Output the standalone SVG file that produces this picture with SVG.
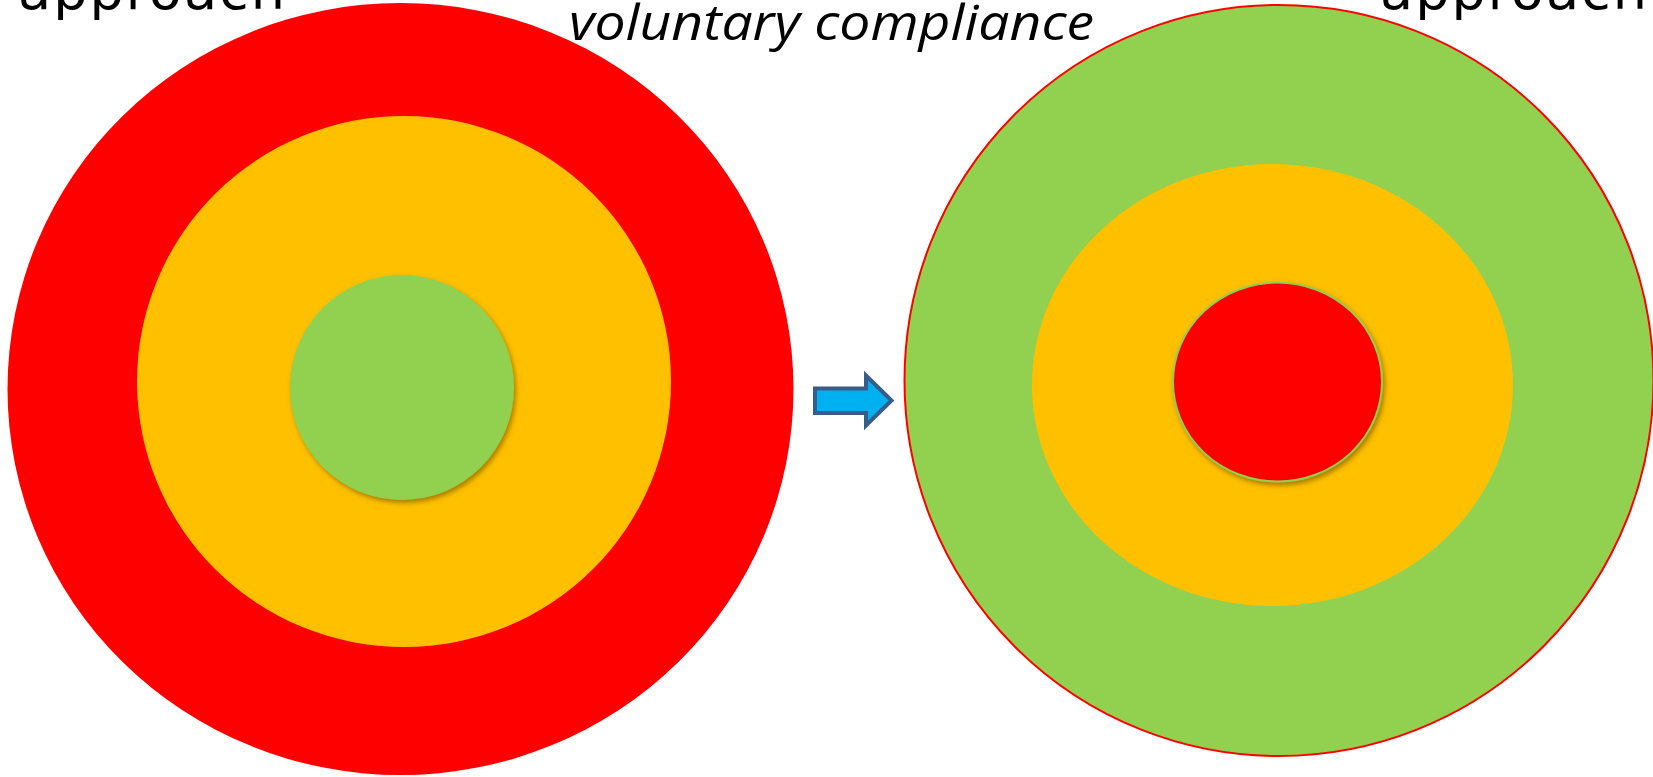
<svg xmlns="http://www.w3.org/2000/svg" width="1653" height="777" viewBox="0 0 1653 777">
<style>
.red{fill:#FF0000}
.orange{fill:#FFC000}
.green{fill:#92D050}
.lbl{font-family:"DejaVu Sans","Liberation Sans",sans-serif;font-size:54px;fill:#000}
.ital{font-family:"Open Sans","Liberation Sans",sans-serif;font-style:italic;font-size:49px;fill:#000}
</style>
<defs>
<filter id="sh" x="-20%" y="-20%" width="140%" height="140%">
<feGaussianBlur in="SourceAlpha" stdDeviation="2.5"/>
<feOffset dx="1.5" dy="3" result="b"/>
<feFlood flood-color="#6b5200" flood-opacity="0.6"/>
<feComposite in2="b" operator="in"/>
<feMerge><feMergeNode/><feMergeNode in="SourceGraphic"/></feMerge>
</filter>
</defs>
<rect width="1653" height="777" fill="#fff"/>
<g id="left-target">
<ellipse class="red" cx="400.5" cy="389" rx="393" ry="386"/>
<ellipse class="orange" cx="404" cy="381.5" rx="267" ry="265.5"/>
<ellipse class="green" cx="402" cy="387.5" rx="112" ry="112.5" filter="url(#sh)"/>
</g>
<g id="right-target">
<ellipse class="green" cx="1279" cy="380.5" rx="374.5" ry="375.5" stroke="#FF0000" stroke-width="2"/>
<ellipse class="orange" cx="1272.5" cy="385" rx="240.5" ry="221"/>
<ellipse class="red" cx="1277.5" cy="382" rx="104.5" ry="99.5" stroke="#92D050" stroke-width="2" filter="url(#sh)"/>
</g>
<g id="connectors">
<path d="M815,388.5 H866 V375.5 L891.5,400.5 L866,425.5 V413 H815 Z" fill="#00B0F0" stroke="#385D8A" stroke-width="4" stroke-linejoin="miter"/>
</g>
<g id="labels">
<text class="lbl" x="18" y="9" textLength="267" lengthAdjust="spacing">approach</text>
<text class="lbl" x="1380" y="9" textLength="267" lengthAdjust="spacing">approach</text>
<text class="ital" x="569" y="40" textLength="525" lengthAdjust="spacingAndGlyphs">voluntary compliance</text>
</g>
</svg>
